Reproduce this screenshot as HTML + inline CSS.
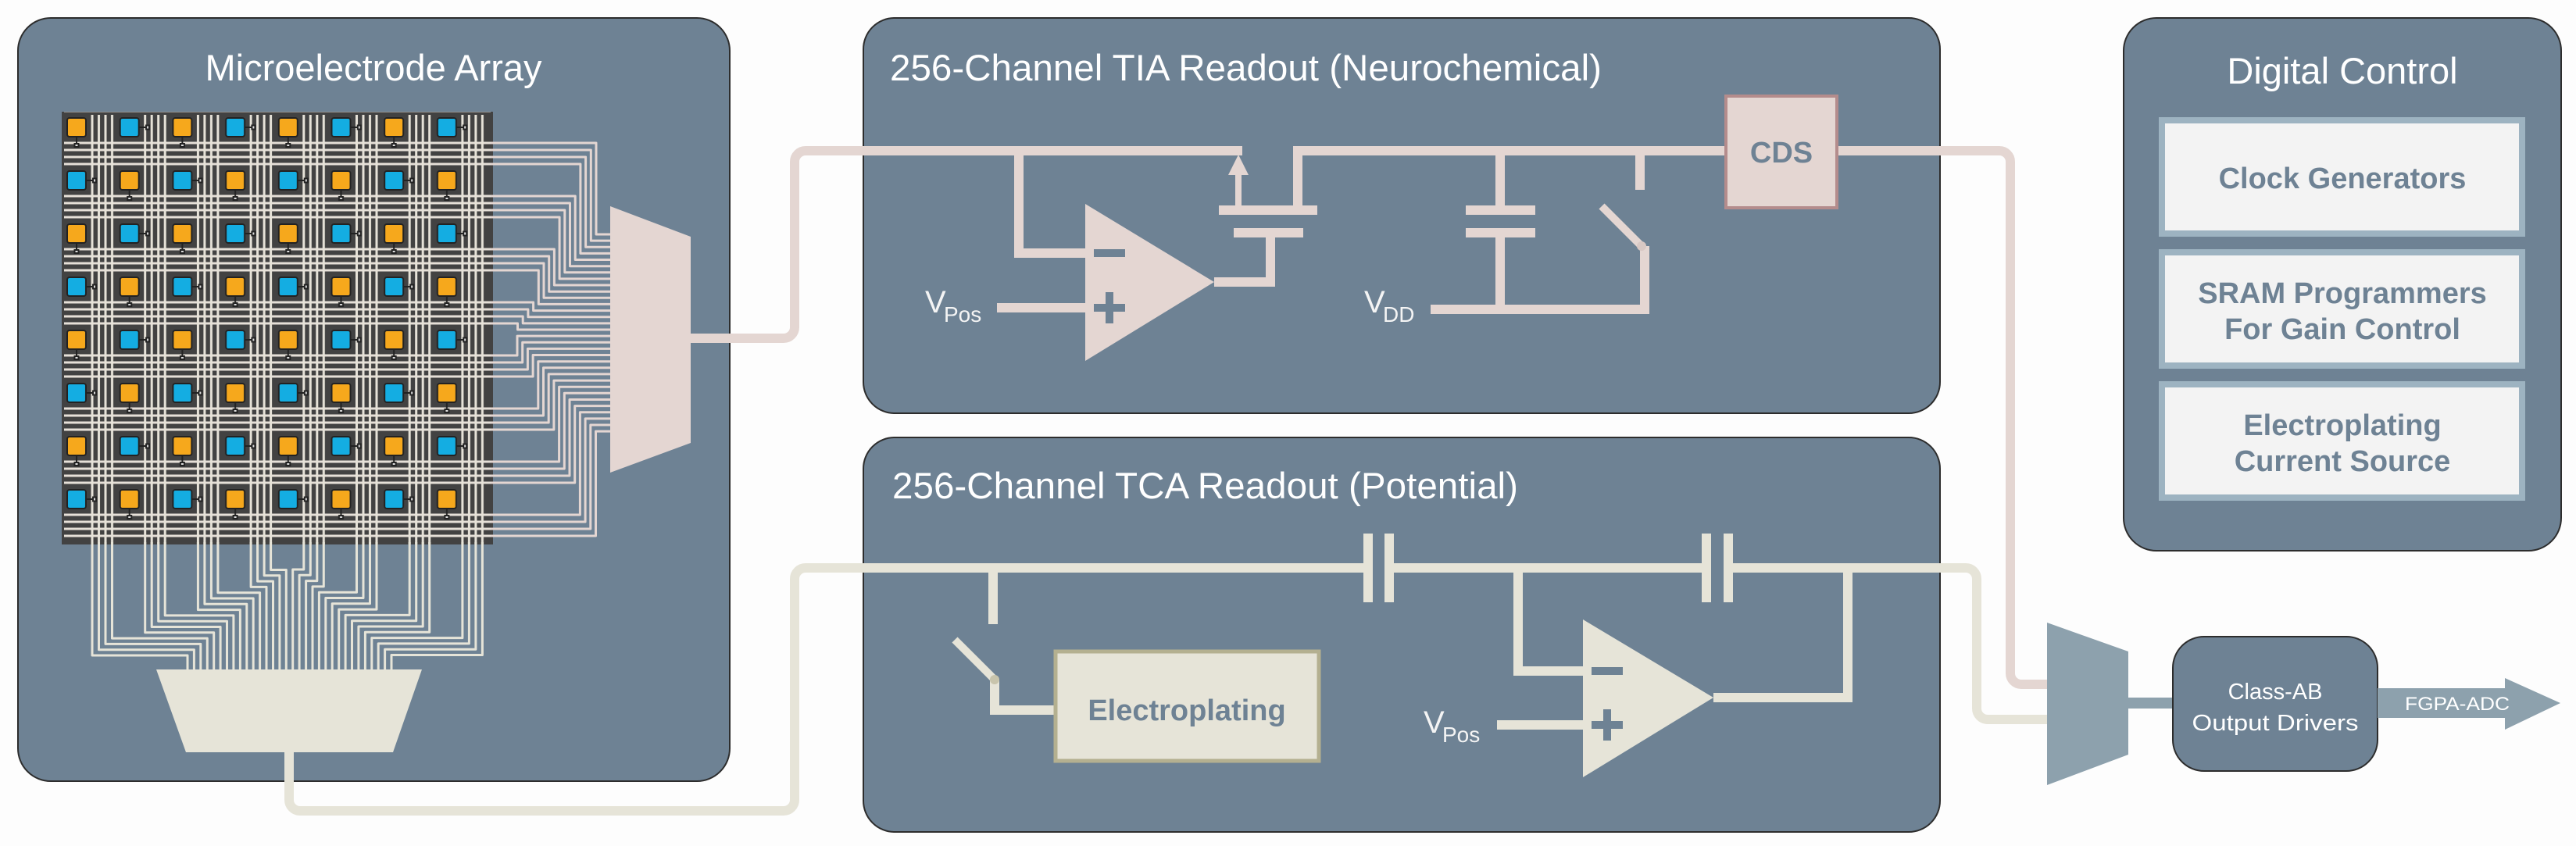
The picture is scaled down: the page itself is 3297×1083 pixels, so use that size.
<!DOCTYPE html>
<html><head><meta charset="utf-8"><style>
html,body{margin:0;padding:0;background:#fdfdfd;}
svg{display:block;font-family:"Liberation Sans",sans-serif;}
</style></head><body>
<svg width="3297" height="1083" viewBox="0 0 3297 1083" xmlns="http://www.w3.org/2000/svg">
<defs>
<pattern id="hl" patternUnits="userSpaceOnUse" x="0" y="181.5" width="68" height="68">
<rect x="0" y="0" width="68" height="3" fill="#e6e0d8"/><rect x="0" y="9" width="68" height="3" fill="#e6e0d8"/><rect x="0" y="18" width="68" height="3" fill="#e6e0d8"/><rect x="0" y="27" width="68" height="3" fill="#e6e0d8"/>
</pattern>
<pattern id="vl" patternUnits="userSpaceOnUse" x="116.5" y="0" width="67.7" height="68">
<rect x="0" y="0" width="3" height="68" fill="#e6e2d8"/><rect x="8.5" y="0" width="3" height="68" fill="#e6e2d8"/><rect x="17" y="0" width="3" height="68" fill="#e6e2d8"/><rect x="25.5" y="0" width="3" height="68" fill="#e6e2d8"/>
</pattern>
<pattern id="el" patternUnits="userSpaceOnUse" x="84" y="149" width="135.4" height="136">
<g stroke="#222" stroke-width="2">
<rect x="2" y="2" width="24" height="24" rx="3" fill="#f6a81c"/>
<rect x="69.7" y="2" width="24" height="24" rx="3" fill="#14ade2"/>
<rect x="2" y="70" width="24" height="24" rx="3" fill="#14ade2"/>
<rect x="69.7" y="70" width="24" height="24" rx="3" fill="#f6a81c"/>
</g>
<g stroke="#222" stroke-width="2" fill="#ddd">
<line x1="14" y1="26" x2="14" y2="36"/><rect x="11.5" y="35" width="5" height="4"/>
<line x1="93.7" y1="14" x2="104" y2="14"/><rect x="103" y="11.5" width="4" height="5"/>
<line x1="26" y1="82" x2="36" y2="82"/><rect x="35" y="79.5" width="4" height="5"/>
<line x1="81.7" y1="94" x2="81.7" y2="104"/><rect x="79.2" y="103" width="5" height="4"/>
</g>
</pattern>
</defs>

<rect x="23" y="23" width="911" height="977" rx="42" fill="#6e8294" stroke="#2d2d2d" stroke-width="2"/>
<rect x="1105" y="23" width="1378" height="506" rx="40" fill="#6e8294" stroke="#2d2d2d" stroke-width="2"/>
<rect x="1105" y="560" width="1378" height="505" rx="40" fill="#6e8294" stroke="#2d2d2d" stroke-width="2"/>
<rect x="2718" y="23" width="560" height="682" rx="42" fill="#6e8294" stroke="#2d2d2d" stroke-width="2"/>

<text x="478" y="103" font-size="47" fill="#fff" text-anchor="middle">Microelectrode Array</text>
<text x="1139" y="103" font-size="47" fill="#fff" textLength="911" lengthAdjust="spacingAndGlyphs">256-Channel TIA Readout (Neurochemical)</text>
<text x="1142" y="638" font-size="47" fill="#fff" textLength="801" lengthAdjust="spacingAndGlyphs">256-Channel TCA Readout (Potential)</text>
<text x="2998" y="107" font-size="47" fill="#fff" text-anchor="middle">Digital Control</text>

<rect x="79" y="143" width="552" height="554" fill="#424242"/>
<rect x="82" y="143" width="546" height="554" fill="url(#hl)"/>
<rect x="79" y="147" width="552" height="550" fill="url(#vl)"/>
<rect x="84" y="149" width="540" height="540" fill="url(#el)"/>

<g fill="none" stroke="#e4d6d2" stroke-width="3" stroke-linejoin="round">
<path d="M628 183H763V300H785"/><path d="M628 192H756.3V308.1H785"/><path d="M628 201H749.6V316.3H785"/><path d="M628 210H742.9V324.4H785"/>
<path d="M628 251H736.2V332.5H785"/><path d="M628 260H729.5V340.7H785"/><path d="M628 269H722.8V348.8H785"/><path d="M628 278H716.1V356.9H785"/>
<path d="M628 319H709.4V365H785"/><path d="M628 328H702.7V373.2H785"/><path d="M628 337H696V381.3H785"/><path d="M628 346H689.3V389.4H785"/>
<path d="M628 387H682.6V397.6H785"/><path d="M628 396H675.9V405.7H785"/><path d="M628 405H669.2V413.9H785"/><path d="M628 414H662.5V422H785"/>
<path d="M628 455H662V430.1H785"/><path d="M628 464H668.7V438.3H785"/><path d="M628 473H675.4V446.4H785"/><path d="M628 482H682.1V454.5H785"/>
<path d="M628 523H688.8V462.7H785"/><path d="M628 532H695.5V470.8H785"/><path d="M628 541H702.2V478.9H785"/><path d="M628 550H708.9V487.1H785"/>
<path d="M628 591H715.6V495.2H785"/><path d="M628 600H722.3V503.3H785"/><path d="M628 609H729V511.5H785"/><path d="M628 618H735.7V519.6H785"/>
<path d="M628 659H742.4V527.7H785"/><path d="M628 668H749.1V535.9H785"/><path d="M628 677H755.8V544H785"/><path d="M628 686H762.5V552.1H785"/>
</g>
<polygon points="781,264 884,303 884,567 781,605" fill="#e4d6d2"/>

<g fill="none" stroke="#e6e4d8" stroke-width="3" stroke-linejoin="round">
<path d="M118 694V839H240V860"/><path d="M126.5 694V831.7H248.4V860"/><path d="M135 694V824.4H256.8V860"/><path d="M143.5 694V817.1H265.3V860"/>
<path d="M185.7 694V809.8H273.7V860"/><path d="M194.2 694V802.5H282.1V860"/><path d="M202.7 694V795.2H290.5V860"/><path d="M211.2 694V787.9H298.9V860"/>
<path d="M253.4 694V780.6H307.4V860"/><path d="M261.9 694V773.3H315.8V860"/><path d="M270.4 694V766H324.2V860"/><path d="M278.9 694V758.7H332.6V860"/>
<path d="M321.1 694V751.4H341V860"/><path d="M329.6 694V744.1H349.5V860"/><path d="M338.1 694V736.8H357.9V860"/><path d="M346.6 694V729.5H366.3V860"/>
<path d="M388.8 694V729H374.7V860"/><path d="M397.3 694V736.3H383.1V860"/><path d="M405.8 694V743.6H391.6V860"/><path d="M414.3 694V750.9H400V860"/>
<path d="M456.5 694V758.2H408.4V860"/><path d="M465 694V765.5H416.8V860"/><path d="M473.5 694V772.8H425.2V860"/><path d="M482 694V780.1H433.7V860"/>
<path d="M524.2 694V787.4H442.1V860"/><path d="M532.7 694V794.7H450.5V860"/><path d="M541.2 694V802H458.9V860"/><path d="M549.7 694V809.3H467.4V860"/>
<path d="M591.9 694V816.6H475.8V860"/><path d="M600.4 694V823.9H484.2V860"/><path d="M608.9 694V831.2H492.6V860"/><path d="M617.4 694V838.5H501V860"/>
</g>
<polygon points="200,857 540,857 503,963 238,963" fill="#e6e4d8"/>

<g fill="none" stroke="#e4d6d2" stroke-width="12">
<path d="M884 433H1003A14 14 0 0 0 1017 419V207A14 14 0 0 1 1031 193H1590"/>
<path d="M1661 269V193H2215"/>
<path d="M1304 193V324H1395"/>
<path d="M1554 361H1626V298"/>
<path d="M1276 394H1392"/>
<path d="M1920 193V269M1920 298V396"/>
<path d="M1831 396H2105V315"/>
<path d="M2099 193V243"/>
<path d="M2345 193H2559A14 14 0 0 1 2573 207V862A14 14 0 0 0 2587 876H2625"/>
</g>
<rect x="1581" y="222" width="8" height="47" fill="#e4d6d2"/>
<polygon points="1585,198 1572,224 1598,224" fill="#e4d6d2"/>
<rect x="1560" y="263" width="126" height="12" fill="#e4d6d2"/>
<rect x="1579" y="292" width="89" height="12" fill="#e4d6d2"/>
<polygon points="1389,261 1389,462 1554,361" fill="#e4d6d2"/>
<rect x="1400" y="319" width="40" height="10" fill="#6e8294"/>
<rect x="1400" y="389" width="40" height="10" fill="#6e8294"/><rect x="1415" y="374" width="10" height="40" fill="#6e8294"/>
<rect x="1876" y="263" width="89" height="12" fill="#e4d6d2"/>
<rect x="1876" y="292" width="89" height="12" fill="#e4d6d2"/>
<line x1="2101" y1="315" x2="2050" y2="264" stroke="#e4d6d2" stroke-width="10"/>
<circle cx="2101" cy="315" r="6" fill="#d8c8c4"/>
<rect x="2209" y="123" width="142" height="143" fill="#e4d6d2" stroke="#b48c8c" stroke-width="4"/>
<text x="2280" y="208" font-size="38" font-weight="bold" fill="#6e8294" text-anchor="middle">CDS</text>
<text x="1184" y="400" font-size="40" fill="#f4f4f4">V</text><text x="1208" y="412" font-size="28" fill="#f4f4f4">Pos</text>
<text x="1746" y="400" font-size="40" fill="#f4f4f4">V</text><text x="1770" y="412" font-size="28" fill="#f4f4f4">DD</text>

<g fill="none" stroke="#e6e4d8" stroke-width="12">
<path d="M370 960V1024A14 14 0 0 0 384 1038H1003A14 14 0 0 0 1017 1024V741A14 14 0 0 1 1031 727H1748"/>
<path d="M1781 727H2181"/>
<path d="M2215 727H2516A14 14 0 0 1 2530 741V907A14 14 0 0 0 2544 921H2625"/>
<path d="M1271 727V799"/>
<path d="M1273 870V909H1352"/>
<path d="M1943 727V859H2030"/>
<path d="M2193 893H2365V727"/>
<path d="M1916 928H2028"/>
</g>
<rect x="1745" y="683" width="12" height="88" fill="#e6e4d8"/><rect x="1772" y="683" width="12" height="88" fill="#e6e4d8"/>
<rect x="2178" y="683" width="12" height="88" fill="#e6e4d8"/><rect x="2206" y="683" width="12" height="88" fill="#e6e4d8"/>
<line x1="1273" y1="870" x2="1222" y2="819" stroke="#e6e4d8" stroke-width="10"/>
<circle cx="1273" cy="870" r="6" fill="#c8c4ac"/>
<rect x="1351" y="834" width="337" height="140" fill="#e6e4d8" stroke="#b4b090" stroke-width="5"/>
<text x="1519" y="922" font-size="38" font-weight="bold" fill="#6e8294" text-anchor="middle">Electroplating</text>
<polygon points="2026,793 2026,995 2193,893" fill="#e6e4d8"/>
<rect x="2037" y="854" width="40" height="10" fill="#6e8294"/>
<rect x="2037" y="923" width="40" height="10" fill="#6e8294"/><rect x="2052" y="908" width="10" height="40" fill="#6e8294"/>
<text x="1822" y="938" font-size="40" fill="#f4f4f4">V</text><text x="1846" y="950" font-size="28" fill="#f4f4f4">Pos</text>

<g>
<rect x="2763" y="150" width="469" height="153" fill="#9db3c1"/><rect x="2771" y="158" width="453" height="137" fill="#f3f3f3"/>
<rect x="2763" y="319" width="469" height="153" fill="#9db3c1"/><rect x="2771" y="327" width="453" height="137" fill="#f3f3f3"/>
<rect x="2763" y="488" width="469" height="153" fill="#9db3c1"/><rect x="2771" y="496" width="453" height="137" fill="#f3f3f3"/>
</g>
<g font-size="38" font-weight="bold" fill="#6e8294" text-anchor="middle">
<text x="2998" y="241">Clock Generators</text>
<text x="2998" y="388">SRAM Programmers</text>
<text x="2998" y="434">For Gain Control</text>
<text x="2998" y="557">Electroplating</text>
<text x="2998" y="603">Current Source</text>
</g>

<polygon points="2620,797 2724,834 2724,966 2620,1005" fill="#8da1ad"/>
<rect x="2720" y="893" width="64" height="14" fill="#8da1ad"/>
<rect x="2781" y="815" width="262" height="172" rx="40" fill="#6e8294" stroke="#2d2d2d" stroke-width="2"/>
<text x="2912" y="895" font-size="29" fill="#fff" text-anchor="middle">Class-AB</text>
<text x="2912" y="935" font-size="29" fill="#fff" text-anchor="middle" textLength="213" lengthAdjust="spacingAndGlyphs">Output Drivers</text>
<polygon points="3043,881 3206,881 3206,868 3277,900 3206,934 3206,919 3043,919" fill="#8da1ad"/>
<text x="3145" y="909" font-size="24" fill="#fff" text-anchor="middle" textLength="134" lengthAdjust="spacingAndGlyphs">FGPA-ADC</text>
</svg>
</body></html>
